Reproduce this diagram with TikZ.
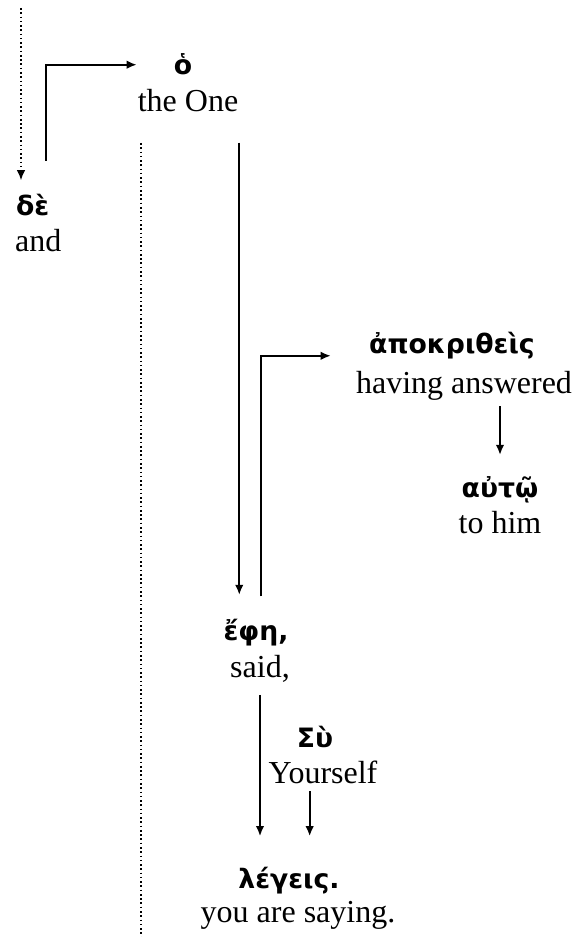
\documentclass[tikz,border=0pt]{standalone}
\usepackage{fontspec}
\setmainfont{Liberation Serif}
\newfontfamily\gkfont{DejaVu Sans}
\usetikzlibrary{arrows.meta}

\begin{document}
\begin{tikzpicture}[->,>={Latex[length=3.8pt,width=3.2pt]},x=0.375pt,y=-0.375pt,thick,
    gr/.style={inner sep=0pt,anchor=base,font=\gkfont\bfseries\fontsize{10}{12}\selectfont},
    en/.style={inner sep=0pt,anchor=base,font=\fontsize{12}{14}\selectfont}]
      \useasboundingbox (0,0) rectangle (577,937);
      % words
      \node[gr,anchor=base west] (de) at (15,216) {δὲ};
      \node[en,anchor=base west] (deT) at (14,252) {and};
      \node[gr] (ho) at (183,75) {ὁ};
      \node[en] (hoT) at (188,112) {the One};
      \node[gr] (apo) at (452,353) {ἀποκριθεὶς};
      \node[en] (apoT) at (464,393) {having answered};
      \node[gr] (auto) at (500,497) {αὐτῷ};
      \node[en] (autoT) at (500,533) {to him};
      \node[gr] (efe) at (256,640) {ἔφη,};
      \node[en] (efeT) at (260,677) {said,};
      \node[gr] (su) at (315,747) {Σὺ};
      \node[en] (suT) at (323,783) {Yourself};
      \node[gr] (leg) at (289,888) {λέγεις.};
      \node[en] (legT) at (298,922) {you are saying.};
      % dotted guides
      \coordinate (dtop) at (21,8);
      \coordinate (mtop) at (141,143);
      \coordinate (mbot) at (141,937);
      \draw[densely dotted,semithick] (dtop) -- ([yshift=5pt]dtop |- de.north);
      \draw[-,densely dotted,semithick] (mtop) -- (mbot);
      % connectors
      \draw ([xshift=4.9pt,yshift=12.4pt]de.north) |- ([xshift=-13.5pt]ho.west);
      \draw ([yshift=-11pt]hoT.south east) -- ([yshift=8.5pt]hoT.south east |- efe.north);
      \draw ([xshift=2pt,yshift=8pt]efe.north) |- ([xshift=-14pt,yshift=-4pt]apo.west);
      \draw ([yshift=-2pt]apoT.south -| auto.north) -- ([yshift=7.5pt]auto.north);
      \draw ([yshift=-4.5pt]efeT.south) -- ([yshift=11pt]efeT.south |- leg.north);
      \draw ([xshift=-5pt,yshift=-2.6pt]suT.south) -- ([xshift=-5pt,yshift=11pt]suT.south |- leg.north);
\end{tikzpicture}
\end{document}
